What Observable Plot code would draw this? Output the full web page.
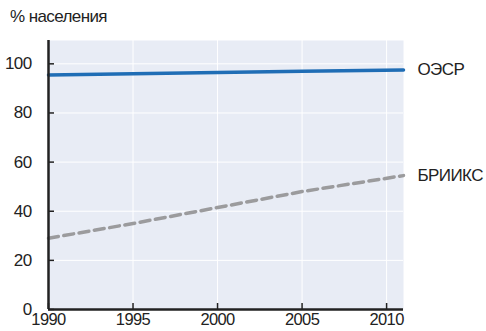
<!DOCTYPE html>
<html><head><meta charset="utf-8">
<script src="https://cdn.jsdelivr.net/npm/d3@7"></script>
<script src="https://cdn.jsdelivr.net/npm/@observablehq/plot@0.6"></script>
<style>
body{margin:0;background:#fff;}
#chart{position:relative;width:486px;height:331px;}
#ylab{position:absolute;left:10px;top:7px;font:17px "Liberation Sans",Arial,sans-serif;letter-spacing:-0.6px;color:#222;}
svg{position:absolute;left:0;top:0;}
</style></head>
<body><div id="chart"><div id="ylab">% населения</div></div>
<script>
const years = [1990, 1995, 2000, 2005, 2011];
const oecd = [95.5, 96.0, 96.5, 97.0, 97.5];
const brics = [29, 35, 41.5, 48, 54.5];
const seriesNames = ["ОЭСР", "БРИИКС"];
const yTicks = [0, 20, 40, 60, 80, 100];
const xTicks = [1990, 1995, 2000, 2005, 2010];

const data = [];
years.forEach((y, i) => {
  data.push({year: y, value: oecd[i], series: seriesNames[0]});
  data.push({year: y, value: brics[i], series: seriesNames[1]});
});
const last = seriesNames.map(s => data.filter(d => d.series === s).at(-1));

const chart = Plot.plot({
  width: 486, height: 331,
  marginLeft: 48, marginRight: 83, marginTop: 40, marginBottom: 22,
  style: {fontFamily: '"Liberation Sans",Arial,sans-serif', fontSize: "17px", letterSpacing: "-0.6px", color: "#222", background: "transparent"},
  x: {domain: [1990, 2011]},
  y: {domain: [0, 109.5]},
  marks: [
    Plot.frame({fill: "#e8ecf5", stroke: null}),
    Plot.gridY(yTicks, {stroke: "#fff", strokeOpacity: 1, strokeWidth: 1}),
    Plot.gridX(xTicks, {stroke: "#fff", strokeOpacity: 1, strokeWidth: 1}),
    Plot.axisY(yTicks, {tickSize: 0, tickPadding: 17, label: null, fontSize: 17}),
    Plot.axisY(yTicks, {tickSize: -6, text: null, label: null, stroke: "#222", strokeWidth: 1.5}),
    Plot.axisX(xTicks, {tickSize: 0, tickPadding: 4, label: null, tickFormat: d => String(d), fontSize: 16.5}),
    Plot.axisX(xTicks, {tickSize: -6, text: null, label: null, stroke: "#222", strokeWidth: 1.5}),
    Plot.line(data.filter(d => d.series === seriesNames[1]), {x: "year", y: "value", stroke: "#9b9b9d", strokeWidth: 3.5, strokeDasharray: "10,5.5"}),
    Plot.line(data.filter(d => d.series === seriesNames[0]), {x: "year", y: "value", stroke: "#1f6db5", strokeWidth: 3.5}),
    Plot.ruleX([1990], {stroke: "#222", strokeWidth: 2.5}),
    Plot.ruleY([0], {stroke: "#222", strokeWidth: 2.5}),
    Plot.text(last, {x: "year", y: "value", text: "series", textAnchor: "start", dx: 14, fill: "#222", fontSize: 17})
  ]
});
document.getElementById("chart").appendChild(chart);
</script></body></html>
